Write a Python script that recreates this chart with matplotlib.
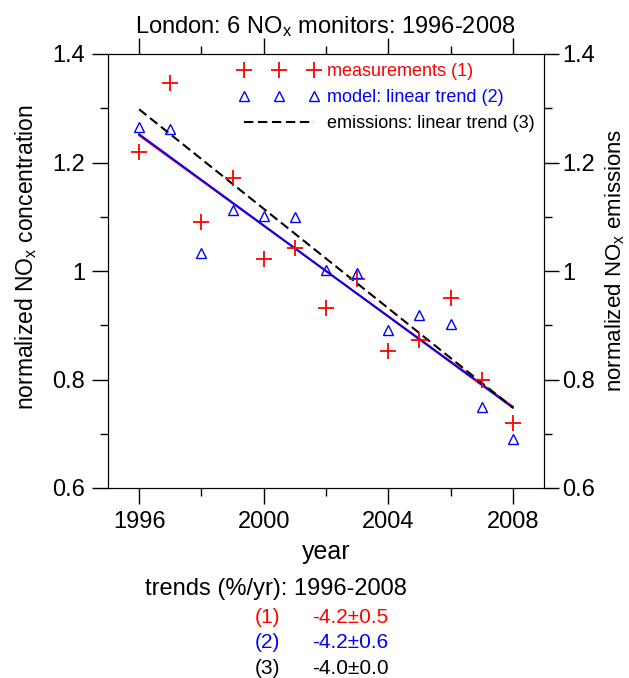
"""London NOx monitors vs. model and emission trends, 1996-2008."""

import matplotlib

matplotlib.use("Agg")
import matplotlib.pyplot as plt  # noqa: E402
from matplotlib.ticker import MultipleLocator  # noqa: E402

plt.rcParams["font.family"] = ["Liberation Sans", "DejaVu Sans"]
plt.rcParams["mathtext.default"] = "regular"

# ------------------------------------------------------------------
# Data
# ------------------------------------------------------------------
years = [1996, 1997, 1998, 1999, 2000, 2001, 2002,
         2003, 2004, 2005, 2006, 2007, 2008]
measurements = [1.220, 1.346, 1.090, 1.172, 1.022, 1.042, 0.932,
                0.985, 0.852, 0.872, 0.951, 0.799, 0.720]
model = [1.266, 1.262, 1.034, 1.113, 1.102, 1.100, 1.001,
         0.996, 0.891, 0.918, 0.902, 0.749, 0.690]

trend_years = [1996, 2008]
meas_trend = [1.250, 0.750]
model_trend = [1.252, 0.748]
emis_trend = [1.298, 0.748]

yticks = [0.6, 0.8, 1.0, 1.2, 1.4]
yticklabels = ["0.6", "0.8", "1", "1.2", "1.4"]

trend_labels = ["(1)", "(2)", "(3)"]
trend_values = ["-4.2\u00b10.5", "-4.2\u00b10.6", "-4.0\u00b10.0"]
trend_colors = ["red", "blue", "black"]

W, H = 629, 678
fig = plt.figure(figsize=(W / 100, H / 100), dpi=100)
ax = fig.add_axes([108 / W, 1 - 488 / H, 436 / W, 434 / H])

ax.plot(trend_years, meas_trend, color="red", lw=1.4, zorder=2)
ax.plot(trend_years, model_trend, color="blue", lw=1.4, zorder=3)
ax.plot(trend_years, emis_trend, color="black", lw=1.5, ls=(0, (4.5, 2.2)),
        zorder=4, label="emissions: linear trend (3)")
ax.plot(years, measurements, "+", color="red", ms=11, mew=1.3,
        label="measurements (1)", zorder=5)
ax.plot(years, model, "^", color="blue", mfc="none", ms=7.5, mew=1.0,
        label="model: linear trend (2)", zorder=5)

ax.set_xlim(1995, 2009)
ax.set_ylim(0.6, 1.4)
ax.xaxis.set_major_locator(MultipleLocator(4))
ax.xaxis.set_minor_locator(MultipleLocator(2))
ax.set_yticks(yticks, yticklabels)
ax.yaxis.set_minor_locator(MultipleLocator(0.1))
ax.tick_params(which="both", direction="out", top=True, labelsize=17,
               width=1.0)
ax.tick_params(which="major", length=11.5, pad=5)
ax.tick_params(which="minor", length=6)

ax2 = ax.twinx()
ax2.set_ylim(0.6, 1.4)
ax2.set_yticks(yticks, yticklabels)
ax2.yaxis.set_minor_locator(MultipleLocator(0.1))
ax2.tick_params(which="both", direction="out", labelsize=17, width=1.0)
ax2.tick_params(which="major", length=11, pad=2)
ax2.tick_params(which="minor", length=5.5)
ax2.set_ylabel("normalized NO$_x$ emissions", fontsize=16)
ax2.yaxis.set_label_coords((603 - 108) / 436, 0.525)

ax.set_xlabel("year", fontsize=18)
ax.xaxis.set_label_coords(0.5, -(540 - 488) / 434)
ax.set_ylabel("normalized NO$_x$ concentration", fontsize=16.5)
ax.yaxis.set_label_coords((39 - 108) / 436, 0.532)

fig.text(325 / W, 1 - 33 / H, "London: 6 NO$_x$ monitors: 1996-2008",
         fontsize=17, ha="center", va="baseline")

handles, labels = ax.get_legend_handles_labels()
order = [1, 2, 0]
leg = ax.legend([handles[i] for i in order], [labels[i] for i in order],
                loc="upper right", frameon=False, numpoints=3,
                handlelength=4.5, handletextpad=0.42, fontsize=13,
                labelspacing=0.5, borderaxespad=0.1,
                labelcolor="linecolor")

# trends summary below the axes
fig.text(275.5 / W, 1 - 595 / H, "trends (%/yr): 1996-2008", fontsize=17,
         ha="center", va="baseline")
for i, (lab, val, col) in enumerate(zip(trend_labels, trend_values,
                                        trend_colors)):
    y = 1 - (623 + 25.5 * i) / H
    fig.text(267.5 / W, y, lab, color=col, fontsize=15, ha="center",
             va="baseline")
    fig.text(312 / W, y, val, color=col, fontsize=15, ha="left",
             va="baseline")

fig.savefig("out.png", dpi=100)
